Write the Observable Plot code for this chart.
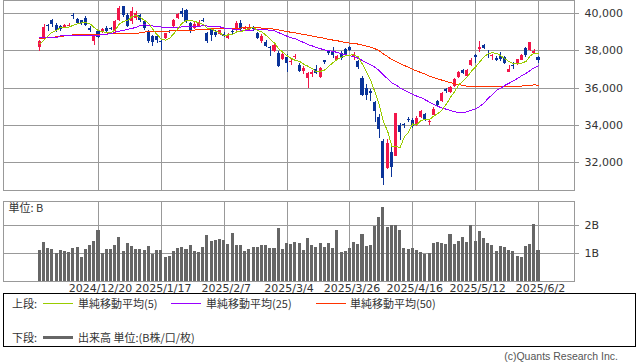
<!DOCTYPE html>
<html><head><meta charset="utf-8">
<script src="https://cdn.jsdelivr.net/npm/d3@7"></script>
<script src="https://cdn.jsdelivr.net/npm/@observablehq/plot@0.6"></script>
<style>
html,body{margin:0;padding:0;background:#fff;}
body{width:638px;height:362px;position:relative;overflow:hidden;font-family:"DejaVu Sans","Noto Sans CJK JP",sans-serif;}
#top{position:absolute;left:0;top:0;}
#vol{position:absolute;left:0;top:196px;}
#legend{position:absolute;left:3px;top:293px;width:631px;height:52px;border:1px solid #000;background:#fff;}
.lg{position:absolute;font-family:"Noto Sans CJK JP","Noto Sans",sans-serif;font-size:11px;line-height:14px;color:#333;white-space:nowrap;}
.sw{position:absolute;width:30px;}
#foot{position:absolute;right:20px;top:349px;font-family:"Liberation Sans",sans-serif;font-size:10.5px;line-height:14px;color:#555;white-space:nowrap;}
svg{overflow:visible;}
</style>
</head><body>
<div id="top"></div>
<div id="vol"></div>
<div id="legend"></div>
<div class="lg" style="left:12px;top:296px;">上段:</div>
<div class="sw" style="left:43px;top:303px;height:1px;background:#99cc00;"></div>
<div class="lg" style="left:78px;top:296px;">単純移動平均(5)</div>
<div class="sw" style="left:171px;top:303px;height:1px;background:#9900ff;"></div>
<div class="lg" style="left:206px;top:296px;">単純移動平均(25)</div>
<div class="sw" style="left:316px;top:303px;height:1px;background:#ff3300;"></div>
<div class="lg" style="left:350px;top:296px;">単純移動平均(50)</div>
<div class="lg" style="left:12px;top:330px;">下段:</div>
<div class="sw" style="left:43px;top:336px;height:3px;background:#666;"></div>
<div class="lg" style="left:78px;top:330px;">出来高 単位:(B株/口/枚)</div>
<div id="foot">(c)Quants Research Inc.</div>
<script>
// x-axis tick positions (trading-day index) and their labels
const tickIdx = [14, 29, 44, 59, 74, 89, 104, 119];
const tickLabels = ["2024/12/20", "2025/1/17", "2025/2/7", "2025/3/4", "2025/3/26", "2025/4/16", "2025/5/12", "2025/6/2"];
const priceTicks = [32000, 34000, 36000, 38000, 40000];
const volTicks = [1, 2];

const open = [38180,38700,39340,39600,39370,39300,39250,39300,39870,39680,
39600,39750,39180,38490,39020,38980,39200,39200,39040,39600,
40350,39900,39550,39720,39900,39550,39000,38750,38750,38470,
38660,39060,39280,39720,40100,40150,39450,39200,39300,39650,
38950,39150,39000,38850,38850,38650,39050,39100,39450,39120,
39100,39230,38900,38500,38450,38200,37950,37850,37550,37650,
37350,37650,37200,36900,36500,36700,37000,36550,37450,37950,
37950,37500,37850,38050,38150,37700,37400,36500,35980,35800,
35200,34400,33150,31700,32550,32300,34000,34050,34330,34250,
34000,34400,34600,34150,34550,35300,35250,35900,35750,36100,
36550,36950,36600,37200,37730,38050,38300,37800,37700,37600,
37680,37650,36850,37230,37250,37500,38100,38000,37850,37650];
const high = [38560,39430,39430,39680,39480,39380,39420,39480,40000,39740,
39650,39820,39300,38880,39100,39200,39280,39250,39600,40400,
40400,40000,40320,40100,39950,39600,39100,38800,38800,38600,
38950,39100,39700,40000,40280,40200,39500,39500,39600,39750,
39000,39200,39100,39100,39000,38900,39150,39550,39600,39300,
39400,39300,39000,38850,38550,38250,38400,37950,37850,37800,
37550,37800,37300,37150,36820,36950,37200,37100,37500,38000,
38150,37750,37950,38100,38250,37900,37450,36600,36200,35900,
35300,34600,33250,33250,32800,34650,34100,34100,34400,34350,
34450,34800,34650,34300,34950,35350,35750,35950,36100,36500,
36900,37000,37000,37600,37800,38490,38350,38030,37800,37700,
37900,37700,37200,37350,37550,37800,38150,38450,38050,37700];
const low = [37950,38680,39020,39250,39000,39050,39180,39250,39700,39400,
39380,39300,39000,38300,38650,38900,38980,39080,38980,39560,
39800,39250,39400,39650,39500,39100,38400,38220,38400,38030,
38600,38900,39250,39700,39800,39450,38950,39150,39250,39500,
38400,38500,38700,38800,38700,38600,38850,39050,39100,39050,
39050,39050,38600,38400,38200,37680,37900,37100,37500,36850,
37200,37550,36850,36700,35990,36550,36700,36500,37250,37750,
37600,37450,37500,37750,37950,37500,37000,35550,35350,35300,
34150,33310,30790,31600,31200,32300,33200,33800,34150,33850,
33950,34350,34200,34000,34500,34950,35200,35700,35700,36050,
36500,36700,36550,37150,37320,37900,38050,37590,37500,37400,
37400,37250,36850,37000,37200,37450,37650,37950,37800,37320];
const close = [38513,39248,39276,39395,39091,39160,39367,39372,39849,39470,
39457,39364,39081,38813,38701,39161,39036,39130,39568,40281,
39894,39307,40083,39981,39605,39190,38474,38444,38572,38451,
38903,39027,39646,39958,39931,39566,39016,39414,39513,39572,
38520,38798,38831,39066,38787,38801,38963,39461,39149,39174,
39270,39164,38678,38777,38237,38142,38256,37155,37785,37331,
37418,37704,36887,37028,36793,36819,36790,37053,37396,37845,
37751,37677,37608,37780,38027,37799,37120,35617,35624,35725,
34735,33780,31136,33012,31714,34609,33585,33982,34267,33920,
34377,34730,34279,34220,34868,35039,35705,35839,36045,36452,
36830,36779,36928,37503,37644,38183,38128,37755,37753,37498,
37529,37298,36985,37160,37531,37724,37722,38432,37965,37470];
// volume, billions of shares
const volume = [1.10,1.40,1.19,1.15,1.01,1.12,1.08,1.05,1.19,1.23,
0.87,1.15,1.30,1.44,1.83,1.01,1.15,1.15,1.30,1.58,
1.08,1.37,1.26,1.15,1.15,1.12,1.26,0.98,1.12,1.12,
0.87,0.90,1.08,1.19,1.23,1.15,1.30,1.08,1.05,1.23,
1.65,1.44,1.48,1.51,1.48,1.33,1.73,1.30,1.30,1.08,
1.15,1.23,1.23,1.30,1.30,1.19,1.19,1.90,1.15,1.37,
1.31,1.39,1.36,1.11,1.54,1.29,1.21,1.36,1.21,1.36,
1.18,1.82,1.04,1.07,1.18,1.39,1.32,1.68,1.25,1.29,
1.96,2.29,2.64,1.93,2.00,2.00,1.82,1.18,1.14,1.18,
1.11,1.04,0.96,1.00,1.36,1.39,1.36,1.32,1.68,1.32,
1.43,1.57,1.39,2.00,1.43,1.79,1.54,1.36,1.29,1.07,
1.25,1.21,1.11,1.07,0.89,0.86,1.25,1.32,2.04,1.11];
const ma5 = [38370,38570,38820,39000,39105,39234,39258,39277,39368,39444,
39503,39502,39444,39237,39083,39024,38958,38968,39119,39435,
39582,39636,39827,39909,39774,39633,39467,39139,38857,38626,
38569,38679,38920,39197,39493,39626,39623,39577,39488,39416,
39207,39163,39047,38957,38800,38857,38890,39016,39032,39110,
39203,39244,39087,39013,38825,38600,38418,38113,37915,37734,
37589,37479,37425,37274,37166,37046,36863,36897,36970,37181,
37367,37544,37655,37732,37769,37778,37667,37269,36837,36377,
35764,35096,34200,33678,32875,32850,32811,33380,33631,34073,
34026,34255,34315,34305,34495,34627,34822,35134,35499,35816,
36174,36389,36607,36898,37137,37407,37677,37843,37893,37863,
37733,37567,37413,37294,37301,37340,37424,37714,37875,37863];
const ma25 = [38713,38713,38713,38713,38713,38800,38821,38821,38821,38821,
38821,38821,38821,38825,38840,38860,38890,38930,38990,39050,
39100,39150,39200,39260,39368,39395,39364,39331,39298,39272,
39262,39249,39260,39264,39282,39287,39273,39286,39314,39349,
39323,39314,39302,39282,39222,39178,39164,39140,39106,39089,
39092,39120,39129,39137,39129,39098,39068,38968,38881,38777,
38691,38639,38538,38438,38327,38259,38179,38108,38041,38003,
37961,37910,37835,37781,37735,37676,37594,37472,37346,37245,
37109,36930,36689,36498,36274,36161,35996,35880,35770,35655,
35557,35475,35364,35237,35118,35009,34930,34860,34790,34727,
34688,34675,34727,34802,34879,35017,35191,35456,35645,35877,
35994,36142,36262,36378,36522,36656,36776,36942,37092,37196];
const ma50 = [38660,38680,38700,38720,38745,38770,38800,38830,38853,38853,
38855,38855,38860,38860,38865,38880,38900,38907,38910,38915,
38920,38925,38930,38940,38960,39000,39030,39050,39050,39055,
39060,39060,39065,39070,39075,39080,39090,39110,39140,39158,
39165,39170,39175,39180,39185,39190,39200,39210,39220,39229,
39244,39242,39230,39218,39201,39180,39158,39114,39072,39030,
38989,38956,38912,38876,38838,38791,38746,38705,38661,38613,
38570,38537,38488,38444,38412,38384,38357,38301,38242,38187,
38104,37999,37829,37690,37525,37426,37318,37209,37104,36991,
36908,36827,36736,36639,36560,36485,36420,36348,36285,36231,
36182,36135,36100,36074,36062,36063,36060,36072,36072,36075,
36077,36069,36071,36074,36089,36107,36125,36153,36164,36157];

const data = close.map((c, i) => ({i, o: open[i], h: high[i], l: low[i], c, v: volume[i], m5: ma5[i], m25: ma25[i], m50: ma50[i]}));
const UP = "#f2164a", DOWN = "#0a3399", GRID = "#999999", TXT = "#333333";
const candleColor = d => d.c >= d.o ? UP : DOWN;
const xDomain = [-8.67, 127.59];
const fmtIdx = d => tickLabels[tickIdx.indexOf(d)];

const topChart = Plot.plot({
  width: 638, height: 192,
  marginLeft: 3, marginRight: 64, marginTop: 0, marginBottom: 2,
  style: {fontFamily: "DejaVu Sans, sans-serif", fontSize: "11px", background: "transparent", color: TXT},
  x: {domain: xDomain, axis: null},
  y: {domain: [30497, 40698], axis: null},
  marks: [
    Plot.gridX(tickIdx, {stroke: GRID, strokeOpacity: 1, shapeRendering: "crispEdges"}),
    Plot.gridY(priceTicks, {stroke: GRID, strokeOpacity: 1, shapeRendering: "crispEdges"}),
    Plot.axisY(priceTicks, {anchor: "right", label: null, tickSize: 4, tickPadding: 6, tickFormat: d3.format(","), stroke: GRID, fill: TXT, fontSize: 11, shapeRendering: "crispEdges"}),
    Plot.ruleX(data, {x: "i", y1: "l", y2: "h", stroke: candleColor, shapeRendering: "crispEdges"}),
    Plot.rect(data, {x1: d => d.i - 0.36, x2: d => d.i + 0.36, y1: "o", y2: "c", fill: candleColor, shapeRendering: "crispEdges"}),
    Plot.line(data, {x: "i", y: "m50", stroke: "#ff3300", strokeWidth: 1, shapeRendering: "crispEdges"}),
    Plot.line(data, {x: "i", y: "m25", stroke: "#9900ff", strokeWidth: 1, shapeRendering: "crispEdges"}),
    Plot.line(data, {x: "i", y: "m5", stroke: "#99cc00", strokeWidth: 1, shapeRendering: "crispEdges"}),
    Plot.frame({stroke: GRID, shapeRendering: "crispEdges"})
  ]
});
document.getElementById("top").append(topChart);

const volChart = Plot.plot({
  width: 638, height: 103,
  marginLeft: 3, marginRight: 64, marginTop: 5, marginBottom: 18,
  style: {fontFamily: "DejaVu Sans, sans-serif", fontSize: "11px", background: "transparent", color: TXT},
  x: {domain: xDomain, axis: null},
  y: {domain: [0, 2.857], axis: null},
  marks: [
    Plot.gridX(tickIdx, {stroke: GRID, strokeOpacity: 1, shapeRendering: "crispEdges"}),
    Plot.gridY(volTicks, {stroke: GRID, strokeOpacity: 1, shapeRendering: "crispEdges"}),
    Plot.axisY(volTicks, {anchor: "right", label: null, tickSize: 4, tickPadding: 6, tickFormat: d => d + "B", stroke: GRID, fill: TXT, fontSize: 11, shapeRendering: "crispEdges"}),
    Plot.axisX(tickIdx, {anchor: "bottom", label: null, tickSize: 0, tickPadding: 3, tickFormat: fmtIdx, fill: TXT, fontSize: 11, dx: 2}),
    Plot.rect(data, {x1: d => d.i - 0.36, x2: d => d.i + 0.36, y1: 0, y2: "v", fill: "#666666", shapeRendering: "crispEdges"}),
    Plot.text(["単位: B"], {frameAnchor: "top-left", textAnchor: "start", lineAnchor: "top", dx: 5, dy: 3, fill: TXT, fontSize: 11, fontFamily: "Noto Sans CJK JP, sans-serif"}),
    Plot.frame({stroke: GRID, shapeRendering: "crispEdges"})
  ]
});
document.getElementById("vol").append(volChart);
</script>
</body></html>
